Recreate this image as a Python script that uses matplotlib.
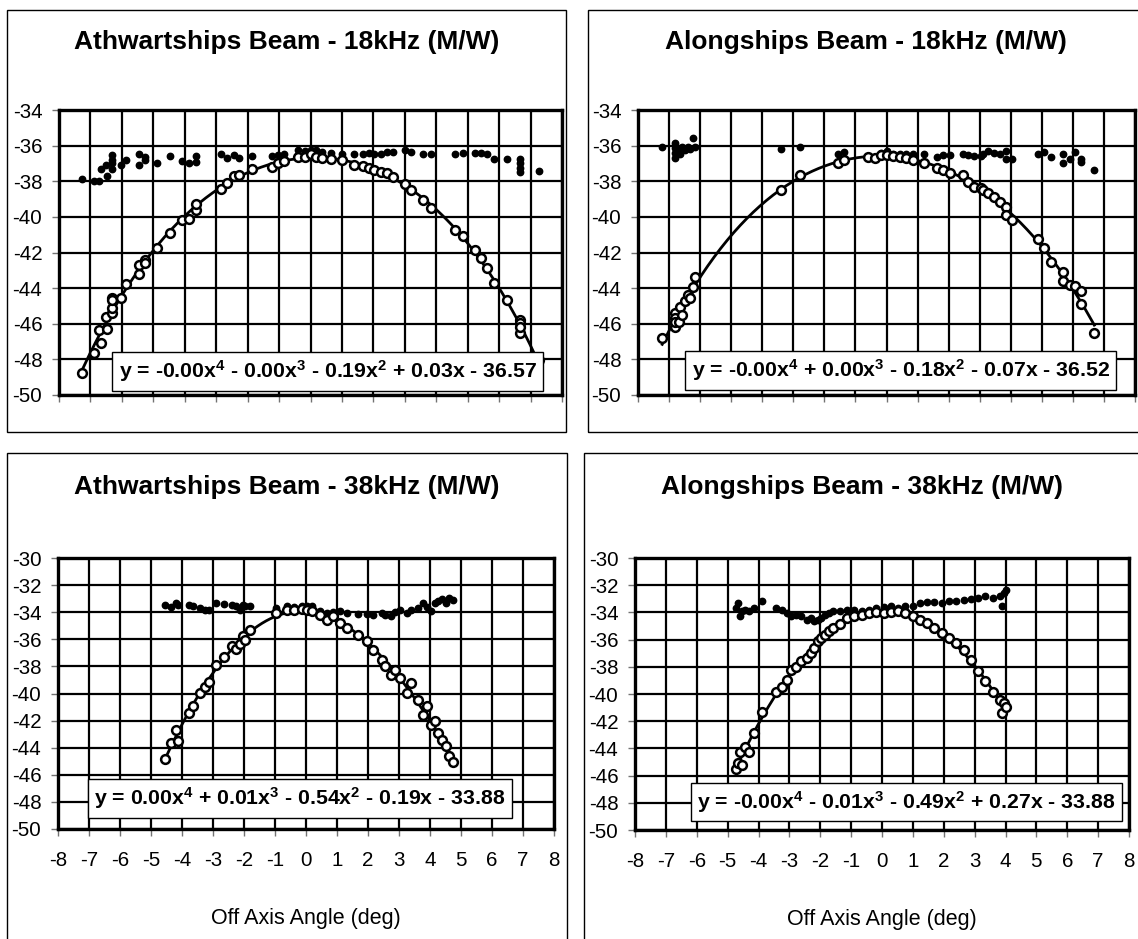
import numpy as np
import matplotlib
matplotlib.use("Agg")
import matplotlib.pyplot as plt
from matplotlib.patches import Rectangle

plt.rcParams['font.family'] = ['Liberation Sans', 'DejaVu Sans']
plt.rcParams['axes.unicode_minus'] = False
plt.rcParams['mathtext.fontset'] = 'custom'
plt.rcParams['mathtext.rm'] = 'Liberation Sans'
plt.rcParams['mathtext.it'] = 'Liberation Sans'
plt.rcParams['mathtext.bf'] = 'Liberation Sans:bold'
plt.rcParams['mathtext.default'] = 'regular'

W, H = 1138, 939

# ---- Athwartships 18 kHz ----
ath18_x = [-7.28, -6.88, -6.72, -6.67, -6.49, -6.47, -6.30, -6.30, -6.30, -6.30,
           -6.03, -5.88, -5.47, -5.45, -5.25, -5.25, -4.87, -4.46, -4.08, -3.86,
           -3.65, -3.65, -2.85, -2.67, -2.43, -2.26, -1.86, -1.22, -1.04, -0.83,
           -0.41, -0.17, 0.00, 0.17, 0.38, 0.64, 0.99, 1.39, 1.68, 1.86,
           2.03, 2.23, 2.43, 2.64, 3.01, 3.21, 3.59, 3.83, 4.61, 4.85,
           5.22, 5.43, 5.62, 5.84, 6.26, 6.66, 6.66, 6.66, 6.66, 7.26]
ath18_dot = [-37.87, -37.99, -37.99, -37.30, -37.10, -37.70, -36.80, -36.50, -37.30, -37.00,
             -37.10, -36.80, -36.47, -37.09, -36.62, -36.80, -36.96, -36.58, -36.86, -36.99,
             -36.58, -36.90, -36.47, -36.71, -36.53, -36.68, -36.58, -36.60, -36.50, -36.45,
             -36.25, -36.28, -36.25, -36.25, -36.34, -36.43, -36.47, -36.47, -36.47, -36.43,
             -36.47, -36.47, -36.34, -36.36, -36.25, -36.38, -36.47, -36.47, -36.47, -36.40,
             -36.40, -36.40, -36.47, -36.77, -36.77, -36.77, -36.99, -37.27, -37.50, -37.40]
ath18_circ = [-48.78, -47.66, -46.35, -47.06, -45.60, -46.30, -44.57, -45.40, -45.10, -44.66,
              -44.57, -43.77, -42.70, -43.20, -42.40, -42.60, -41.77, -40.92, -40.20, -40.10,
              -39.60, -39.25, -38.43, -38.10, -37.70, -37.65, -37.31, -37.18, -36.96, -36.85,
              -36.62, -36.62, -36.49, -36.62, -36.71, -36.77, -36.81, -37.09, -37.14, -37.24,
              -37.37, -37.46, -37.56, -37.74, -38.17, -38.49, -39.05, -39.52, -40.74, -41.10,
              -41.86, -42.33, -42.89, -43.73, -44.67, -45.79, -45.98, -46.50, -46.20, -48.03]

# ---- Alongships 18 kHz ----
alo18_x = [-7.22, -6.81, -6.81, -6.81, -6.81, -6.69, -6.64, -6.58, -6.48, -6.40,
           -6.34, -6.23, -6.17, -3.39, -2.79, -1.56, -1.36, -0.59, -0.37, -0.17,
           0.00, 0.21, 0.43, 0.64, 0.85, 1.22, 1.64, 1.81, 2.04, 2.45,
           2.62, 2.83, 3.03, 3.11, 3.26, 3.46, 3.67, 3.85, 3.85, 4.05,
           4.88, 5.08, 5.29, 5.69, 5.69, 5.90, 6.07, 6.25, 6.25, 6.69]
alo18_dot = [-36.06, -35.83, -36.15, -36.43, -36.71, -36.25, -36.47, -36.06, -36.25, -36.06,
             -36.21, -35.55, -36.06, -36.19, -36.06, -36.47, -36.34, -36.56, -36.62, -36.43,
             -36.28, -36.47, -36.47, -36.49, -36.47, -36.47, -36.62, -36.53, -36.53, -36.47,
             -36.53, -36.56, -36.56, -36.47, -36.28, -36.40, -36.47, -36.28, -36.77, -36.77,
             -36.47, -36.34, -36.62, -36.47, -36.96, -36.77, -36.38, -36.77, -36.94, -37.37]
alo18_circ = [-46.78, -45.41, -46.16, -45.70, -45.90, -45.88, -45.04, -45.50, -44.70, -44.38,
              -44.57, -43.96, -43.36, -38.49, -37.65, -37.00, -36.81, -36.62, -36.68, -36.53,
              -36.53, -36.56, -36.62, -36.68, -36.81, -36.96, -37.27, -37.37, -37.52, -37.65,
              -38.02, -38.30, -38.40, -38.49, -38.68, -38.87, -39.15, -39.43, -39.89, -40.18,
              -41.26, -41.77, -42.51, -43.08, -43.60, -43.82, -43.90, -44.15, -44.90, -46.50]

# ---- Athwartships 38 kHz ----
ath38_x = [-4.54, -4.37, -4.19, -4.13, -3.78, -3.66, -3.43, -3.25, -3.14, -2.90,
           -2.64, -2.40, -2.25, -2.13, -2.04, -1.96, -1.80, -0.96, -0.61, -0.38,
           -0.14, 0.04, 0.19, 0.45, 0.68, 0.86, 1.09, 1.33, 1.68, 1.98,
           2.15, 2.45, 2.56, 2.74, 2.86, 3.03, 3.27, 3.38, 3.62, 3.79,
           3.91, 4.03, 4.15, 4.27, 4.38, 4.50, 4.62, 4.73]
ath38_dot = [-33.49, -33.64, -33.32, -33.49, -33.49, -33.57, -33.69, -33.81, -33.86, -33.32,
             -33.37, -33.44, -33.57, -33.81, -33.44, -33.57, -33.52, -33.69, -33.57, -33.62,
             -33.52, -33.57, -33.57, -33.94, -34.06, -34.01, -33.94, -34.06, -34.11, -34.11,
             -34.18, -34.06, -34.18, -34.26, -34.01, -33.81, -34.06, -33.81, -33.69, -33.32,
             -33.62, -33.94, -33.32, -33.20, -33.03, -33.32, -32.95, -33.08]
ath38_circ = [-44.81, -43.65, -42.67, -43.50, -41.44, -40.95, -39.96, -39.52, -39.18, -37.87,
              -37.31, -36.52, -36.72, -36.32, -35.78, -36.03, -35.29, -34.06, -33.86, -33.81,
              -33.74, -33.86, -33.94, -34.18, -34.55, -34.30, -34.80, -35.17, -35.66, -36.15,
              -36.77, -37.50, -38.00, -38.61, -38.24, -38.86, -39.96, -39.22, -40.45, -41.56,
              -40.95, -42.30, -42.05, -42.92, -43.40, -43.90, -44.64, -45.08]

# ---- Alongships 38 kHz ----
alo38_x = [-4.73, -4.67, -4.61, -4.55, -4.43, -4.31, -4.14, -3.90, -3.43, -3.25,
           -3.08, -2.96, -2.78, -2.61, -2.43, -2.31, -2.19, -2.08, -1.96, -1.84,
           -1.72, -1.60, -1.37, -1.13, -0.90, -0.66, -0.42, -0.19, 0.05, 0.28,
           0.52, 0.75, 0.99, 1.23, 1.46, 1.70, 1.93, 2.17, 2.41, 2.64,
           2.88, 3.11, 3.35, 3.58, 3.82, 3.88, 3.94, 4.00]
alo38_dot = [-33.68, -33.31, -34.29, -33.93, -33.80, -33.93, -33.68, -33.14, -33.68, -33.80,
             -34.05, -34.29, -34.17, -34.29, -34.54, -34.42, -34.66, -34.54, -34.42, -34.17,
             -34.05, -33.93, -33.93, -33.85, -33.80, -33.93, -33.80, -33.68, -33.63, -33.56,
             -33.68, -33.56, -33.56, -33.31, -33.26, -33.26, -33.31, -33.19, -33.14, -33.07,
             -33.02, -32.94, -32.82, -32.94, -32.82, -33.56, -32.58, -32.33]
alo38_circ = [-45.53, -45.04, -44.23, -45.21, -43.87, -44.23, -42.88, -41.29, -39.87, -39.45,
              -38.96, -38.22, -38.00, -37.61, -37.36, -36.99, -36.63, -36.13, -35.89, -35.64,
              -35.40, -35.15, -34.83, -34.42, -34.29, -34.17, -34.05, -34.00, -34.05, -34.00,
              -33.93, -34.05, -34.29, -34.54, -34.79, -35.15, -35.52, -35.89, -36.26, -36.75,
              -37.48, -38.34, -39.08, -39.82, -40.43, -41.41, -40.67, -40.92]

titles = ["Athwartships Beam - 18kHz (M/W)", "Alongships Beam - 18kHz (M/W)",
          "Athwartships Beam - 38kHz (M/W)", "Alongships Beam - 38kHz (M/W)"]
equations = [r"y = -0.00x$^{4}$ - 0.00x$^{3}$ - 0.19x$^{2}$ + 0.03x - 36.57",
             r"y = -0.00x$^{4}$ + 0.00x$^{3}$ - 0.18x$^{2}$ - 0.07x - 36.52",
             r"y = 0.00x$^{4}$ + 0.01x$^{3}$ - 0.54x$^{2}$ - 0.19x - 33.88",
             r"y = -0.00x$^{4}$ - 0.01x$^{3}$ - 0.49x$^{2}$ + 0.27x - 33.88"]
xlabel = "Off Axis Angle (deg)"

panels = [
    dict(x=ath18_x, dot=ath18_dot, circ=ath18_circ, ylim=(-50, -34),
         ax=(59, 110, 562, 395), frame=(7, 10, 566, 432), title=(287, 42),
         eq=(0.534, 0.0825), bottom=False),
    dict(x=alo18_x, dot=alo18_dot, circ=alo18_circ, ylim=(-50, -34),
         ax=(638, 110, 1135, 395), frame=(588, 10, 1145, 432), title=(866, 42),
         eq=(0.529, 0.086), bottom=False),
    dict(x=ath38_x, dot=ath38_dot, circ=ath38_circ, ylim=(-50, -30),
         ax=(58, 558, 554, 829), frame=(7, 453, 567, 950), title=(287, 487),
         eq=(0.488, 0.1125), bottom=True),
    dict(x=alo38_x, dot=alo38_dot, circ=alo38_circ, ylim=(-50, -30),
         ax=(635, 558, 1129, 830), frame=(584, 453, 1145, 950), title=(862, 487),
         eq=(0.5496, 0.103), bottom=True),
]

fig = plt.figure(figsize=(W / 100, H / 100), dpi=100)
fig.patch.set_facecolor("white")

for i, p in enumerate(panels):
    x0, y0, x1, y1 = p["frame"]
    fig.add_artist(Rectangle((x0 / W, 1 - y1 / H), (x1 - x0) / W, (y1 - y0) / H,
                             transform=fig.transFigure, fill=False,
                             ec="black", lw=1.0))
    fig.text(p["title"][0] / W, 1 - p["title"][1] / H, titles[i],
             ha="center", va="center", fontsize=19, fontweight="bold")

    a0, b0, a1, b1 = p["ax"]
    ax = fig.add_axes([a0 / W, 1 - b1 / H, (a1 - a0) / W, (b1 - b0) / H])
    ax.set_xlim(-8, 8)
    ax.set_ylim(*p["ylim"])
    ax.set_xticks(np.arange(-8, 9, 1))
    ax.set_yticks(np.arange(p["ylim"][0], p["ylim"][1] + 1, 2))
    ax.grid(True, color="black", lw=1.6)
    ax.set_axisbelow(True)
    for s in ax.spines.values():
        s.set_linewidth(2.4)
    ax.tick_params(axis="both", direction="out", length=5, width=1,
                   color="0.45", labelsize=14.8)
    ax.tick_params(axis="y", pad=7)
    ax.tick_params(axis="x", pad=11)
    if p["bottom"]:
        ax.set_xlabel(xlabel, fontsize=15.5)
        ax.xaxis.set_label_coords(0.5, -0.29)
    else:
        ax.tick_params(axis="x", labelbottom=False)

    xs = np.array(p["x"])
    yc = np.array(p["circ"])
    coef = np.polyfit(xs, yc, 4)
    xf = np.linspace(xs.min(), xs.max(), 200)
    ax.plot(xf, np.polyval(coef, xf), color="black", lw=2.0, zorder=3)
    ax.plot(xs, p["dot"], "o", color="black", ms=4.6, zorder=4)
    ax.plot(xs, yc, "o", mfc="white", mec="black", mew=1.8, ms=6.3, zorder=4)

    ax.text(p["eq"][0], p["eq"][1], equations[i], transform=ax.transAxes,
            ha="center", va="center", fontsize=15.3, fontweight="bold", zorder=10,
            bbox=dict(boxstyle="square,pad=0.3", fc="white", ec="black", lw=1.0))

fig.savefig("out.png", dpi=100)
